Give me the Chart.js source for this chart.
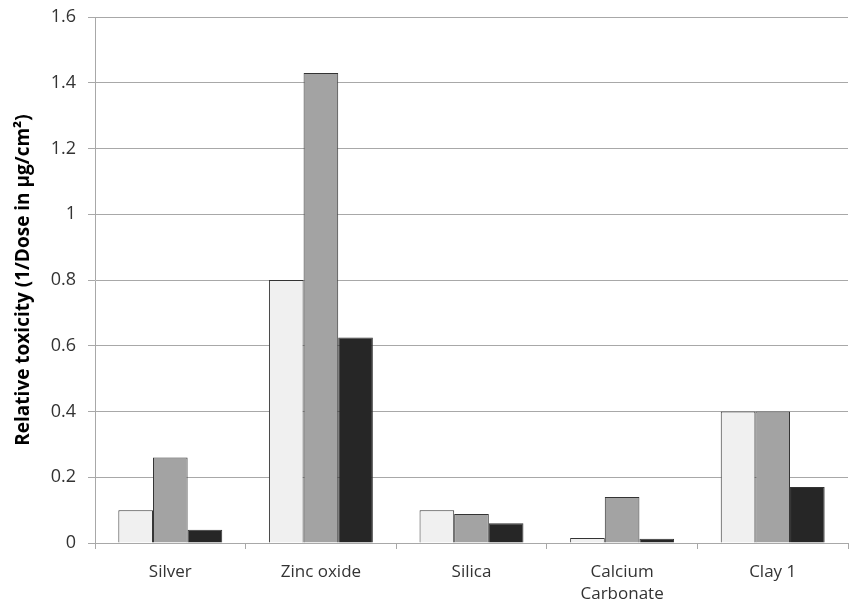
<!DOCTYPE html>
<html>
<head>
<meta charset="utf-8">
<script src="https://cdn.jsdelivr.net/npm/chart.js@4"></script>
<style>
  html, body { margin: 0; padding: 0; background: #fff; }
  #wrap { width: 858px; height: 607px; }
</style>
</head>
<body>
<div id="wrap"><canvas id="chart"></canvas></div>
<script>
// values
const categories = ['Silver', 'Zinc oxide', 'Silica', ['Calcium', 'Carbonate'], 'Clay 1']
const series1 = [0.10, 0.80, 0.10, 0.015, 0.40]
const series2 = [0.26, 1.43, 0.088, 0.14, 0.40]
const series3 = [0.04, 0.625, 0.06, 0.013, 0.17]

const yTitle = 'Relative toxicity (1/Dose in µg/cm²)'

const font = 'Open Sans'
const gridColor = '#a8a8a8'

new Chart(document.getElementById('chart'), {
    type: 'bar',
    data: {
        labels: categories,
        datasets: [
            {label: 'Series 1', data: series1, backgroundColor: '#f0f0f0'},
            {label: 'Series 2', data: series2, backgroundColor: '#a3a3a3'},
            {label: 'Series 3', data: series3, backgroundColor: '#262626'},
        ].map(d => Object.assign(d, {
            borderColor: '#333333',
            borderWidth: 1,
            barPercentage: 1,
            categoryPercentage: 0.69,
        }))
    },
    options: {
        responsive: true,
        maintainAspectRatio: false,
        animation: false,
        layout: {
            padding: {top: 17, right: 10, left: 0, bottom: 0}
        },
        plugins: {
            legend: {display: false},
            tooltip: {enabled: false}
        },
        scales: {
            x: {
                grid: {
                    offset: true,
                    drawOnChartArea: false,
                    drawTicks: true,
                    tickLength: 6,
                    color: gridColor,
                },
                border: {color: gridColor},
                ticks: {
                    color: '#333333',
                    font: {family: font, size: 17, lineHeight: 1.3},
                    padding: 12,
                    maxRotation: 0,
                },
                afterFit(scale) { scale.height = 64 }
            },
            y: {
                min: 0,
                max: 1.6,
                grid: {
                    color: gridColor,
                    tickLength: 7,
                },
                border: {color: gridColor},
                ticks: {
                    stepSize: 0.2,
                    color: '#333333',
                    font: {family: font, size: 18},
                    padding: 12,
                    callback: v => Number(v.toFixed(1)).toString()
                },
                title: {
                    display: true,
                    text: yTitle,
                    color: '#000',
                    font: {family: font, size: 19, weight: 'bold'},
                    padding: {top: 12, bottom: 0}
                },
                afterFit(scale) {
                    scale.width = 95
                    scale.paddingTop = 0
                    scale.paddingBottom = 0
                }
            }
        }
    }
})
</script>
</body>
</html>
